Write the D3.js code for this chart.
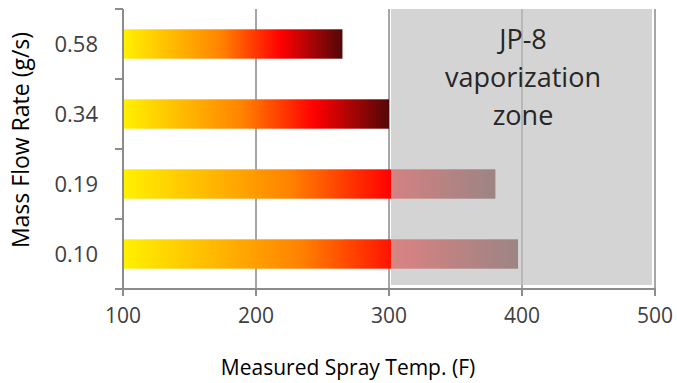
<!DOCTYPE html>
<html>
<head>
<meta charset="utf-8">
<script src="https://cdn.jsdelivr.net/npm/d3@7"></script>
<style>
  body { margin: 0; background: #fff; }
  text { font-family: "Open Sans", sans-serif; }
</style>
</head>
<body>
<svg id="chart" width="677" height="383"></svg>
<script>
// data
let flowRates = ["0.58", "0.34", "0.19", "0.10"];
let sprayTemps = [265, 300, 380, 397];
let xTicks = [100, 200, 300, 400, 500];
let zoneRange = [300, 500];
let zoneLines = ["JP-8", "vaporization", "zone"];

let svg = d3.select("#chart");

let margin = {top: 9, right: 22, bottom: 94, left: 123},
    width = 677 - margin.left - margin.right,
    height = 383 - margin.top - margin.bottom;

let x = d3.scaleLinear().domain([100, 500]).range([margin.left, margin.left + width]);
let y = d3.scaleBand().domain(flowRates)
    .range([margin.top, margin.top + height])
    .paddingInner(0.58).paddingOuter(0.29);

// bar gradient, relative to each bar
let grad = svg.append("defs").append("linearGradient")
    .attr("id", "heat")
    .attr("x1", "0%").attr("x2", "100%").attr("y1", "0%").attr("y2", "0%");
[[0, "#fff100"], [0.25, "#ffb400"], [0.45, "#ff8200"], [0.72, "#ff0000"], [1, "#520808"]]
    .forEach(function(s) {
        grad.append("stop").attr("offset", s[0]).attr("stop-color", s[1]);
    });

// gridlines
svg.append("g").selectAll("line")
    .data(xTicks.slice(1))
    .enter().append("line")
    .attr("x1", d => x(d)).attr("x2", d => x(d))
    .attr("y1", margin.top).attr("y2", margin.top + height)
    .attr("stroke", "#a6a6a6").attr("stroke-width", 2);

// bars
svg.append("g").selectAll("rect")
    .data(flowRates)
    .enter().append("rect")
    .attr("x", x(100))
    .attr("y", d => y(d))
    .attr("width", (d, i) => x(sprayTemps[i]) - x(100))
    .attr("height", y.bandwidth())
    .attr("fill", "url(#heat)");

// vaporization zone overlay
svg.append("rect")
    .attr("x", x(zoneRange[0]) + 2)
    .attr("y", margin.top)
    .attr("width", x(zoneRange[1]) - x(zoneRange[0]) - 5)
    .attr("height", height - 4)
    .attr("fill", "#bfbfbf")
    .attr("fill-opacity", 0.68);

svg.append("g").selectAll("text")
    .data(zoneLines)
    .enter().append("text")
    .attr("x", x((zoneRange[0] + zoneRange[1]) / 2) + 1)
    .attr("y", (d, i) => 49 + i * 38)
    .attr("text-anchor", "middle")
    .attr("font-size", 27)
    .attr("fill", "#262626")
    .text(d => d);

// axes
let axisColor = "#8c8c8c";
let yAxis = svg.append("g");
yAxis.append("line")
    .attr("x1", x(100)).attr("x2", x(100))
    .attr("y1", margin.top).attr("y2", margin.top + height)
    .attr("stroke", axisColor).attr("stroke-width", 2);
let step = y.step();
let bounds = flowRates.map(d => y(d) - (step - y.bandwidth()) / 2).concat([margin.top + height]);
yAxis.selectAll(".tick")
    .data(bounds)
    .enter().append("line")
    .attr("x1", x(100) - 8).attr("x2", x(100))
    .attr("y1", d => d).attr("y2", d => d)
    .attr("stroke", axisColor).attr("stroke-width", 2);
yAxis.selectAll(".label")
    .data(flowRates)
    .enter().append("text")
    .attr("x", 98)
    .attr("y", d => y(d) + y.bandwidth() / 2)
    .attr("dy", "0.36em")
    .attr("text-anchor", "end")
    .attr("font-size", 22)
    .attr("fill", "#404040")
    .text(d => d);

let xAxis = svg.append("g");
xAxis.append("line")
    .attr("x1", x(100) - 8).attr("x2", x(500) + 1)
    .attr("y1", margin.top + height).attr("y2", margin.top + height)
    .attr("stroke", axisColor).attr("stroke-width", 2);
xAxis.selectAll(".tick")
    .data(xTicks)
    .enter().append("line")
    .attr("x1", d => x(d)).attr("x2", d => x(d))
    .attr("y1", margin.top + height).attr("y2", margin.top + height + 7)
    .attr("stroke", axisColor).attr("stroke-width", 2);
xAxis.selectAll(".label")
    .data(xTicks)
    .enter().append("text")
    .attr("x", d => x(d))
    .attr("y", 323)
    .attr("text-anchor", "middle")
    .attr("font-size", 21)
    .attr("fill", "#404040")
    .text(d => d);

// titles
svg.append("text")
    .attr("x", 348).attr("y", 375)
    .attr("text-anchor", "middle")
    .attr("font-size", 21)
    .attr("fill", "#000")
    .text("Measured Spray Temp. (F)");

svg.append("text")
    .attr("transform", "translate(29,140) rotate(-90)")
    .attr("text-anchor", "middle")
    .attr("font-size", 23)
    .attr("fill", "#000")
    .text("Mass Flow Rate (g/s)");
</script>
</body>
</html>
